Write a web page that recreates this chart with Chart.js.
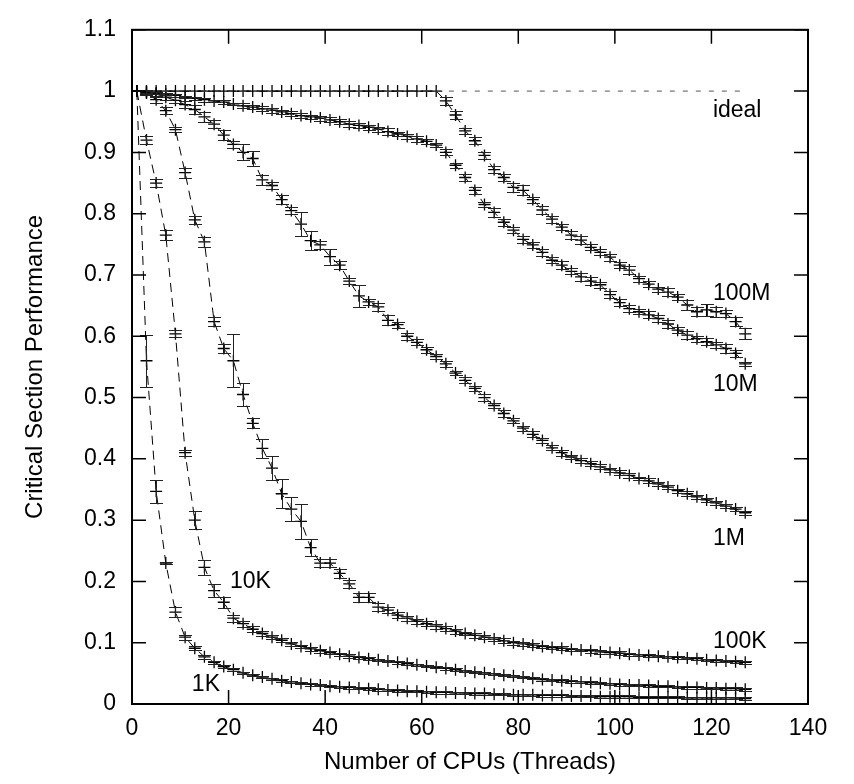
<!DOCTYPE html>
<html>
<head>
<meta charset="utf-8">
<title>Critical Section Performance</title>
<script src="https://cdn.jsdelivr.net/npm/chart.js@4.4.1/dist/chart.umd.min.js"></script>
<style>
  html, body { margin: 0; padding: 0; background: #fff; }
  #grafica { display: block; }
</style>
</head>
<body>
<canvas id="grafica" width="854" height="784"></canvas>
<script>
/* ===== Datos ===== */
const cpus = [1,3,5,7,9,11,13,15,17,19,21,23,25,27,29,31,33,35,37,39,41,43,45,47,49,51,53,55,57,59,61,63,
  65,67,69,71,73,75,77,79,81,83,85,87,89,91,93,95,97,99,101,103,105,107,109,111,113,115,117,119,121,123,125,127];

const idealX = [1, 126];
const idealY = [1, 1];

const perf100M = [1,1,1,1,1,1,1,1,1,1,1,1,1,1,1,1,1,1,1,1,1,1,1,1,1,1,1,1,1,1,1,1,
  0.984,0.961,0.935,0.919,0.895,0.872,0.859,0.843,0.838,0.823,0.806,0.791,0.778,0.765,0.757,0.745,
  0.737,0.729,0.716,0.708,0.694,0.685,0.677,0.672,0.664,0.651,0.640,0.643,0.640,0.637,0.624,0.604];
const err100M = [0,0,0,0,0,0,0,0,0,0,0,0,0,0,0,0,0,0,0,0,0,0,0,0,0,0,0,0,0,0,0,0,
  0.006,0.006,0.005,0.006,0.005,0.006,0.006,0.007,0.008,0.005,0.007,0.006,0.005,0.006,0.006,0.005,
  0.005,0.006,0.005,0.006,0.005,0.005,0.004,0.007,0.005,0.008,0.007,0.010,0.008,0.006,0.008,0.009];

const perf10M = [1,0.999,0.997,0.995,0.993,0.990,0.988,0.986,0.984,0.982,0.979,0.976,0.974,0.971,0.969,0.966,
  0.963,0.960,0.958,0.956,0.953,0.950,0.946,0.944,0.941,0.938,0.934,0.930,0.926,0.922,0.918,0.912,
  0.900,0.879,0.859,0.838,0.815,0.802,0.786,0.773,0.758,0.749,0.737,0.724,0.716,0.706,0.697,0.690,
  0.684,0.668,0.655,0.645,0.640,0.635,0.629,0.620,0.610,0.602,0.596,0.591,0.586,0.580,0.572,0.555];
const err10M = [0,0.002,0.002,0.002,0.002,0.002,0.002,0.003,0.002,0.003,0.002,0.004,0.003,0.004,0.004,0.003,
  0.004,0.004,0.003,0.004,0.004,0.004,0.005,0.004,0.004,0.004,0.005,0.004,0.004,0.005,0.004,0.004,
  0.005,0.004,0.005,0.006,0.004,0.007,0.006,0.005,0.006,0.005,0.006,0.005,0.006,0.005,0.007,0.006,
  0.005,0.006,0.005,0.006,0.004,0.006,0.005,0.006,0.005,0.006,0.005,0.006,0.005,0.007,0.006,0.003];

const perf1M = [1,0.998,0.995,0.990,0.985,0.978,0.970,0.958,0.946,0.928,0.913,0.900,0.890,0.855,0.846,0.823,
  0.805,0.783,0.756,0.749,0.730,0.716,0.690,0.666,0.656,0.648,0.626,0.619,0.600,0.590,0.578,0.567,
  0.555,0.540,0.528,0.515,0.500,0.487,0.474,0.462,0.450,0.440,0.430,0.418,0.410,0.403,0.397,0.392,
  0.387,0.382,0.377,0.373,0.368,0.364,0.359,0.354,0.348,0.343,0.338,0.333,0.328,0.323,0.318,0.312];
const err1M = [0,0.002,0.003,0.004,0.005,0.006,0.007,0.008,0.007,0.008,0.006,0.013,0.013,0.008,0.006,0.007,
  0.006,0.019,0.016,0.006,0.013,0.006,0.005,0.018,0.005,0.006,0.008,0.005,0.006,0.005,0.005,0.004,
  0.005,0.004,0.005,0.004,0.005,0.004,0.005,0.004,0.004,0.005,0.004,0.004,0.005,0.004,0.004,0.004,
  0.004,0.003,0.004,0.004,0.003,0.004,0.003,0.004,0.003,0.004,0.003,0.003,0.004,0.003,0.003,0.003];

const perf100K = [1,0.997,0.986,0.968,0.937,0.867,0.790,0.754,0.624,0.580,0.560,0.505,0.458,0.417,0.385,0.343,
  0.318,0.298,0.255,0.230,0.230,0.213,0.196,0.174,0.174,0.158,0.153,0.145,0.140,0.135,0.131,0.127,
  0.123,0.119,0.115,0.112,0.109,0.106,0.103,0.100,0.098,0.096,0.094,0.092,0.091,0.089,0.088,0.087,
  0.085,0.084,0.083,0.081,0.080,0.079,0.078,0.077,0.076,0.075,0.074,0.072,0.071,0.070,0.069,0.068];
const err100K = [0,0.004,0.005,0.006,0.004,0.008,0.007,0.008,0.007,0.008,0.043,0.019,0.008,0.016,0.019,0.024,
  0.019,0.028,0.014,0.007,0.006,0.008,0.006,0.007,0.007,0.006,0.005,0.005,0.004,0.004,0.004,0.004,
  0.004,0.004,0.003,0.004,0.003,0.003,0.004,0.003,0.003,0.003,0.003,0.003,0.003,0.003,0.002,0.003,
  0.003,0.002,0.003,0.002,0.002,0.003,0.002,0.002,0.002,0.002,0.002,0.002,0.002,0.002,0.002,0.002];

const perf10K = [1,0.920,0.850,0.765,0.604,0.410,0.300,0.223,0.185,0.166,0.140,0.131,0.122,0.115,0.109,0.104,
  0.098,0.094,0.090,0.087,0.084,0.081,0.078,0.076,0.074,0.072,0.070,0.068,0.066,0.064,0.062,0.060,
  0.058,0.056,0.054,0.052,0.051,0.049,0.047,0.046,0.044,0.042,0.040,0.039,0.038,0.037,0.036,0.035,
  0.034,0.033,0.032,0.031,0.031,0.030,0.029,0.029,0.028,0.027,0.027,0.026,0.026,0.025,0.025,0.024];
const err10K = [0,0.006,0.007,0.008,0.006,0.005,0.015,0.012,0.010,0.009,0.006,0.005,0.005,0.004,0.003,0.003,
  0.003,0.003,0.003,0.003,0.003,0.002,0.003,0.002,0.002,0.002,0.002,0.002,0.002,0.002,0.002,0.002,
  0.002,0.002,0.002,0.002,0.002,0.002,0.002,0.002,0.002,0.002,0.002,0.002,0.002,0.002,0.002,0.002,
  0.002,0.002,0.002,0.002,0.002,0.002,0.002,0.002,0.002,0.002,0.002,0.002,0.002,0.002,0.002,0.002];

const perf1K = [1,0.560,0.347,0.230,0.150,0.109,0.091,0.077,0.068,0.061,0.056,0.051,0.047,0.044,0.041,0.038,
  0.036,0.034,0.032,0.031,0.029,0.028,0.027,0.026,0.025,0.024,0.023,0.022,0.021,0.021,0.020,0.019,
  0.019,0.018,0.018,0.017,0.017,0.016,0.016,0.015,0.015,0.015,0.014,0.014,0.014,0.013,0.013,0.013,
  0.012,0.012,0.012,0.012,0.011,0.011,0.011,0.011,0.011,0.010,0.010,0.010,0.010,0.010,0.010,0.009];
const err1K = [0,0.042,0.019,0.002,0.008,0.004,0.003,0.003,0.002,0.002,0.002,0.002,0.002,0.002,0.002,0.002,
  0.002,0.002,0.002,0.002,0.002,0.002,0.002,0.002,0.002,0.002,0.002,0.002,0.002,0.002,0.002,0.002,
  0.002,0.002,0.002,0.002,0.002,0.002,0.002,0.002,0.002,0.002,0.002,0.002,0.002,0.002,0.002,0.002,
  0.002,0.002,0.002,0.002,0.002,0.002,0.002,0.002,0.002,0.002,0.002,0.002,0.002,0.002,0.002,0.002];

const seriesNames = ['100M', '10M', '1M', '100K', '10K', '1K'];
const xTicks = [0, 20, 40, 60, 80, 100, 120, 140];
const yTicks = [0, 0.1, 0.2, 0.3, 0.4, 0.5, 0.6, 0.7, 0.8, 0.9, 1, 1.1];
const yTickLabels = ['0', '0.1', '0.2', '0.3', '0.4', '0.5', '0.6', '0.7', '0.8', '0.9', '1', '1.1'];

/* ===== Estilo ===== */
const FONT = "'Liberation Sans', Arial, Helvetica, sans-serif";
const FS = 23;
const FS_TITLE = 24;

// etiquetas de curva, en coordenadas de datos (x, y del centro vertical)
const curveLabels = [
  { text: 'ideal', x: 120.3, y: 0.968 },
  { text: seriesNames[0], x: 120.3, y: 0.669 },
  { text: seriesNames[1], x: 120.3, y: 0.521 },
  { text: seriesNames[2], x: 120.3, y: 0.270 },
  { text: seriesNames[3], x: 120.3, y: 0.101 },
  { text: seriesNames[4], x: 20.3, y: 0.200 },
  { text: seriesNames[5], x: 12.4, y: 0.031 }
];

function toPoints(xs, ys) {
  return xs.map((x, i) => ({ x: x, y: ys[i] }));
}

const seriesValues = [perf100M, perf10M, perf1M, perf100K, perf10K, perf1K];
const seriesErrors = [err100M, err10M, err1M, err100K, err10K, err1K];

const datasets = [{
  label: 'ideal',
  data: toPoints(idealX, idealY),
  borderColor: '#555',
  borderWidth: 1,
  borderDash: [5, 8],
  pointRadius: 0
}];
seriesNames.forEach((name, k) => {
  datasets.push({
    label: name,
    data: toPoints(cpus, seriesValues[k]),
    errors: seriesErrors[k],
    borderColor: '#000',
    borderWidth: 1,
    borderDash: [9, 6],
    pointStyle: 'cross',
    pointRadius: 6,
    pointBorderColor: '#000',
    pointBorderWidth: 1.3
  });
});

/* ===== Plugins ===== */
const errorBars = {
  id: 'errorBars',
  afterDatasetsDraw(chart) {
    const { ctx, scales: { x, y } } = chart;
    ctx.save();
    ctx.strokeStyle = '#222';
    ctx.lineWidth = 1;
    chart.data.datasets.forEach(ds => {
      if (!ds.errors) return;
      ds.data.forEach((p, i) => {
        const e = ds.errors[i];
        if (!e) return;
        const px = Math.round(x.getPixelForValue(p.x)) + 0.5;
        const top = Math.round(y.getPixelForValue(p.y + e)) + 0.5;
        const bot = Math.round(y.getPixelForValue(p.y - e)) + 0.5;
        ctx.beginPath();
        ctx.moveTo(px, top); ctx.lineTo(px, bot);
        ctx.moveTo(px - 6.5, top); ctx.lineTo(px + 6.5, top);
        ctx.moveTo(px - 6.5, bot); ctx.lineTo(px + 6.5, bot);
        ctx.stroke();
      });
    });
    ctx.restore();
  }
};

const frame = {
  id: 'frame',
  afterDraw(chart) {
    const { ctx, chartArea: a, scales: { x, y } } = chart;
    ctx.save();
    ctx.strokeStyle = '#000';
    ctx.lineWidth = 1.5;
    ctx.beginPath();
    xTicks.forEach(v => {
      const px = x.getPixelForValue(v);
      ctx.moveTo(px, a.bottom); ctx.lineTo(px, a.bottom - 14);
      ctx.moveTo(px, a.top); ctx.lineTo(px, a.top + 14);
    });
    yTicks.forEach(v => {
      const py = y.getPixelForValue(v);
      ctx.moveTo(a.left, py); ctx.lineTo(a.left + 14, py);
      ctx.moveTo(a.right, py); ctx.lineTo(a.right - 14, py);
    });
    ctx.stroke();
    ctx.lineWidth = 2;
    ctx.strokeRect(a.left, a.top, a.right - a.left, a.bottom - a.top);

    ctx.fillStyle = '#000';
    ctx.font = FS + 'px ' + FONT;
    ctx.textAlign = 'left';
    ctx.textBaseline = 'middle';
    curveLabels.forEach(l => {
      ctx.fillText(l.text, x.getPixelForValue(l.x), y.getPixelForValue(l.y));
    });
    ctx.restore();
  }
};

/* ===== Gráfica ===== */
document.addEventListener('DOMContentLoaded', function () {
  const canvas = document.getElementById('grafica');
  if (!canvas || typeof Chart === 'undefined') {
    console.warn('Chart.js no está cargado o falta #grafica');
    return;
  }
  new Chart(canvas.getContext('2d'), {
    type: 'line',
    data: { datasets },
    plugins: [errorBars, frame],
    options: {
      responsive: false,
      animation: false,
      layout: { padding: { top: 27, right: 46, left: 0, bottom: 0 } },
      plugins: { legend: { display: false }, tooltip: { enabled: false } },
      scales: {
        x: {
          type: 'linear',
          min: 0, max: 140,
          afterBuildTicks: s => { s.ticks = xTicks.map(v => ({ value: v })); },
          afterFit: s => { s.height = 80; },
          grid: { display: false, drawTicks: false },
          border: { display: false },
          ticks: { color: '#000', font: { family: FONT, size: FS }, padding: 11, maxRotation: 0 },
          title: {
            display: true, text: 'Number of CPUs (Threads)', color: '#000',
            font: { family: FONT, size: FS_TITLE }, padding: { top: 0, bottom: 7 }
          }
        },
        y: {
          min: 0, max: 1.1,
          afterBuildTicks: s => { s.ticks = yTicks.map(v => ({ value: v })); },
          afterFit: s => { s.width = 132; },
          grid: { display: false, drawTicks: false },
          border: { display: false },
          ticks: {
            color: '#000', font: { family: FONT, size: FS }, padding: 16,
            callback: (v, i) => yTickLabels[i]
          },
          title: {
            display: true, text: 'Critical Section Performance', color: '#000',
            font: { family: FONT, size: FS_TITLE }, padding: { top: 21, bottom: 0 }
          }
        }
      }
    }
  });
});
</script>
</body>
</html>
